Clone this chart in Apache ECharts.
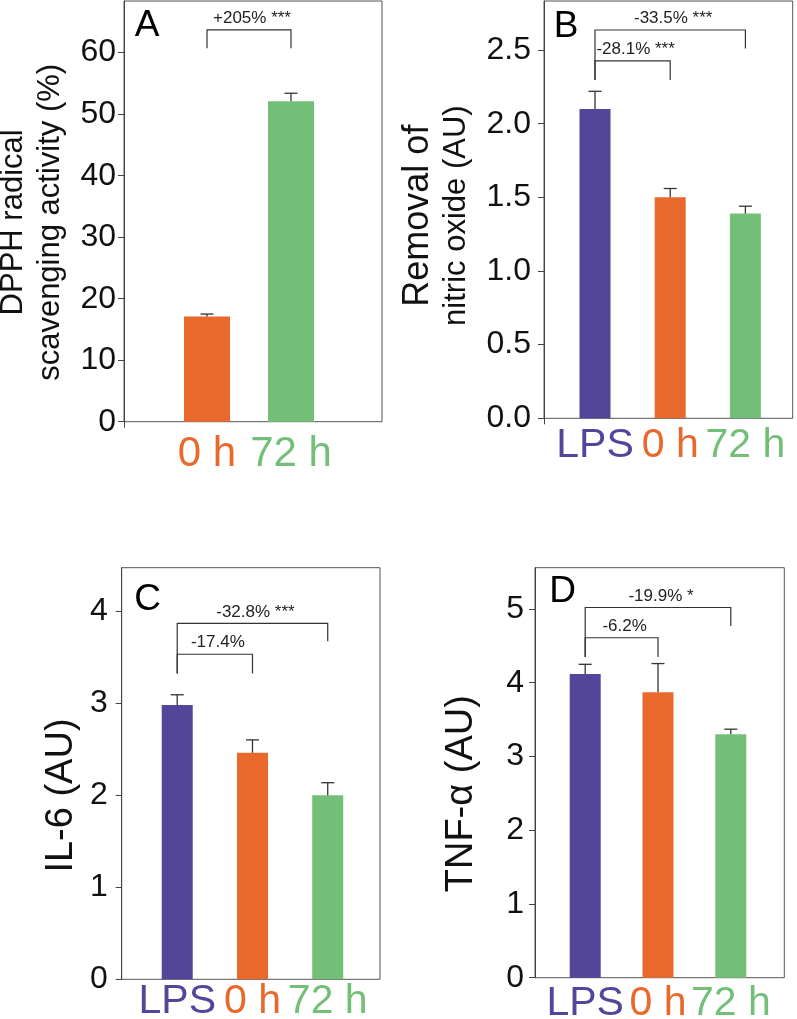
<!DOCTYPE html>
<html><head><meta charset="utf-8">
<script src="https://cdn.jsdelivr.net/npm/echarts@6/dist/echarts.min.js"></script>
<style>html,body{margin:0;padding:0;background:#fff}#c{width:797px;height:1019px}</style>
</head><body><div id="c"></div>
<script>
// ---------- data ----------
const catsA = ['0 h', '72 h'];
const valuesA = [17.1, 52.1];
const errTopA = [17.5, 53.4];
const bracketsA = [[0, 1, 63.7, 60.7, 60.7, '+205% ***']];
const yTicksA = [0, 10, 20, 30, 40, 50, 60];

const catsB = ['LPS', '0 h', '72 h'];
const valuesB = [2.10, 1.50, 1.39];
const errTopB = [2.22, 1.56, 1.44];
const bracketsB = [[0, 2, 2.636, 2.297, 2.51, '-33.5% ***'], [0, 1, 2.426, 2.297, 2.297, '-28.1% ***']];
const yTicksB = [0, 0.5, 1.0, 1.5, 2.0, 2.5];

const catsC = ['LPS', '0 h', '72 h'];
const valuesC = [2.98, 2.46, 2.00];
const errTopC = [3.09, 2.60, 2.135];
const bracketsC = [[0, 2, 3.866, 3.32, 3.67, '-32.8% ***'], [0, 1, 3.53, 3.32, 3.32, '-17.4%']];
const yTicksC = [0, 1, 2, 3, 4];

const catsD = ['LPS', '0 h', '72 h'];
const valuesD = [4.12, 3.87, 3.30];
const errTopD = [4.25, 4.26, 3.37];
const bracketsD = [[0, 2, 5.02, 4.35, 4.77, '-19.9% *'], [0, 1, 4.61, 4.35, 4.35, '-6.2%']];
const yTicksD = [0, 1, 2, 3, 4, 5];

// ---------- styling / layout ----------
const FONT = '"Liberation Sans", Arial, sans-serif';
const colorOf = { 'LPS': '#52459a', '0 h': '#e9692c', '72 h': '#73bf78' };
const keyOf = { 'LPS': 'p', '0 h': 'o', '72 h': 'g' };

const panels = [
  { cats: catsA, vals: valuesA, err: errTopA, br: bracketsA, ticks: yTicksA, max: 68.4, dec: 0,
    name: 'DPPH radical\nscavenging activity (%)', nameSize: 31, nameGap: 55, namePad: 22, nameRich: null,
    frame: { left: 124, top: 1, width: 258, height: 420.7 }, data: { left: 165, width: 168 },
    barW: 46, labelMargin: 8, xMargin: 12, xFont: 42, letter: 'A', lx: 147, ly: 26, cornerTick: true },
  { cats: catsB, vals: valuesB, err: errTopB, br: bracketsB, ticks: yTicksB, max: 2.833, dec: 1,
    name: '{l1|Removal of}\n{l2|nitric oxide (AU)}', nameSize: 31, nameGap: 70, namePad: 12,
    nameRich: { l1: { fontSize: 36, fontFamily: FONT, color: '#111', lineHeight: 40 },
                l2: { fontSize: 31, fontFamily: FONT, color: '#111', lineHeight: 36 } },
    frame: { left: 544, top: 1, width: 248.7, height: 417.3 }, data: { left: 557.4, width: 225.6 },
    barW: 31, labelMargin: 13, xMargin: 7, xFont: 41, letter: 'B', lx: 566, ly: 27, cornerTick: true },
  { cats: catsC, vals: valuesC, err: errTopC, br: bracketsC, ticks: yTicksC, max: 4.47, dec: 0,
    name: 'IL-6 (AU)', nameSize: 38, nameGap: 42, namePad: 44, nameRich: null,
    frame: { left: 121.7, top: 567.7, width: 258.3, height: 411.6 }, data: { left: 139.6, width: 225.75 },
    barW: 31, labelMargin: 14, xMargin: 2, xFont: 41, letter: 'C', lx: 147.5, ly: 599.5, cornerTick: false },
  { cats: catsD, vals: valuesD, err: errTopD, br: bracketsD, ticks: yTicksD, max: 5.56, dec: 0,
    name: 'TNF-α (AU)', nameSize: 38, nameGap: 55, namePad: 42, nameRich: null,
    frame: { left: 535, top: 567.7, width: 249.3, height: 410 }, data: { left: 548.8, width: 218.4 },
    barW: 31, labelMargin: 11, xMargin: 5, xFont: 41, letter: 'D', lx: 562.5, ly: 592, cornerTick: false }
];

const grid = [], xAxis = [], yAxis = [], series = [], graphic = [];

panels.forEach((p, i) => {
  const fi = 2 * i, di = 2 * i + 1;
  grid.push({ left: p.frame.left, top: p.frame.top, width: p.frame.width, height: p.frame.height,
    show: true, borderColor: '#555', borderWidth: 1, backgroundColor: 'transparent',
    containLabel: false, outerBoundsMode: 'none' });
  grid.push({ left: p.data.left, top: p.frame.top, width: p.data.width, height: p.frame.height,
    show: false, containLabel: false, outerBoundsMode: 'none' });

  xAxis.push({ gridIndex: fi, type: 'value', min: 0, max: 1, show: p.cornerTick,
    axisLine: { show: false }, splitLine: { show: false }, axisLabel: { show: false },
    axisTick: { show: true, length: 6, customValues: [0], lineStyle: { color: '#444' } } });
  const rich = {};
  Object.keys(keyOf).forEach(k => { rich[keyOf[k]] = { color: colorOf[k], fontSize: p.xFont, fontFamily: FONT }; });
  xAxis.push({ gridIndex: di, type: 'category', data: p.cats, boundaryGap: true,
    axisLine: { show: false }, axisTick: { show: false }, splitLine: { show: false },
    axisLabel: { show: true, interval: 0, margin: p.xMargin, formatter: v => '{' + keyOf[v] + '|' + v + '}', rich: rich } });

  const nts = { fontSize: p.nameSize, fontFamily: FONT, color: '#111', lineHeight: 37, padding: [0, p.namePad, 0, 0] };
  if (p.nameRich) nts.rich = p.nameRich;
  yAxis.push({ gridIndex: fi, type: 'value', min: 0, max: p.max,
    name: p.name, nameLocation: 'middle', nameRotate: 90, nameGap: p.nameGap, nameMoveOverlap: false,
    nameTextStyle: nts,
    axisLine: { show: true, lineStyle: { color: '#444', width: 1 } },
    axisTick: { show: true, inside: false, length: 6, customValues: p.ticks, lineStyle: { color: '#444' } },
    axisLabel: { show: true, customValues: p.ticks, margin: p.labelMargin, fontSize: 32, fontFamily: FONT, color: '#111',
      formatter: v => Number(v).toFixed(p.dec) },
    splitLine: { show: false } });
  yAxis.push({ gridIndex: di, type: 'value', min: 0, max: p.max, show: false, splitLine: { show: false } });

  series.push({ type: 'bar', xAxisIndex: di, yAxisIndex: di, barWidth: p.barW, z: 2,
    data: p.vals.map((v, k) => ({ value: v, itemStyle: { color: colorOf[p.cats[k]] } })) });

  series.push({ type: 'custom', xAxisIndex: di, yAxisIndex: di, z: 3, clip: false,
    data: p.cats.map((c, k) => [k, p.vals[k], p.err[k]]),
    renderItem: (params, api) => {
      const base = api.coord([api.value(0), api.value(1)]);
      const top = api.coord([api.value(0), api.value(2)]);
      const st = { stroke: '#333', lineWidth: 1.3 };
      return { type: 'group', children: [
        { type: 'line', shape: { x1: base[0], y1: base[1], x2: top[0], y2: top[1] }, style: st },
        { type: 'line', shape: { x1: top[0] - 6.5, y1: top[1], x2: top[0] + 6.5, y2: top[1] }, style: st }
      ] };
    } });

  series.push({ type: 'custom', xAxisIndex: di, yAxisIndex: di, z: 4, clip: false,
    data: p.br.map(b => [b[0], b[2]]),
    renderItem: (params, api) => {
      const b = p.br[params.dataIndex];
      const lb = api.coord([b[0], b[3]]);
      const lt = api.coord([b[0], b[2]]);
      const rt = api.coord([b[1], b[2]]);
      const rb = api.coord([b[1], b[4]]);
      return { type: 'group', children: [
        { type: 'polyline', shape: { points: [lb, lt, rt, rb] }, style: { stroke: '#333', lineWidth: 1.2, fill: null } },
        { type: 'text', x: (lt[0] + rt[0]) / 2 + 3, y: lt[1] - 11.5,
          style: { text: b[5], fontSize: 17, fontFamily: FONT, fill: '#222', align: 'center', verticalAlign: 'middle' } }
      ] };
    } });

  graphic.push({ type: 'text', x: p.lx, y: p.ly,
    style: { text: p.letter, fontSize: 37, fontFamily: FONT, fill: '#000', align: 'center', verticalAlign: 'middle' } });
});

const chart = echarts.init(document.getElementById('c'), null, { renderer: 'canvas' });
chart.setOption({ animation: false, backgroundColor: '#fff', grid, xAxis, yAxis, series, graphic });
</script>
</body></html>
